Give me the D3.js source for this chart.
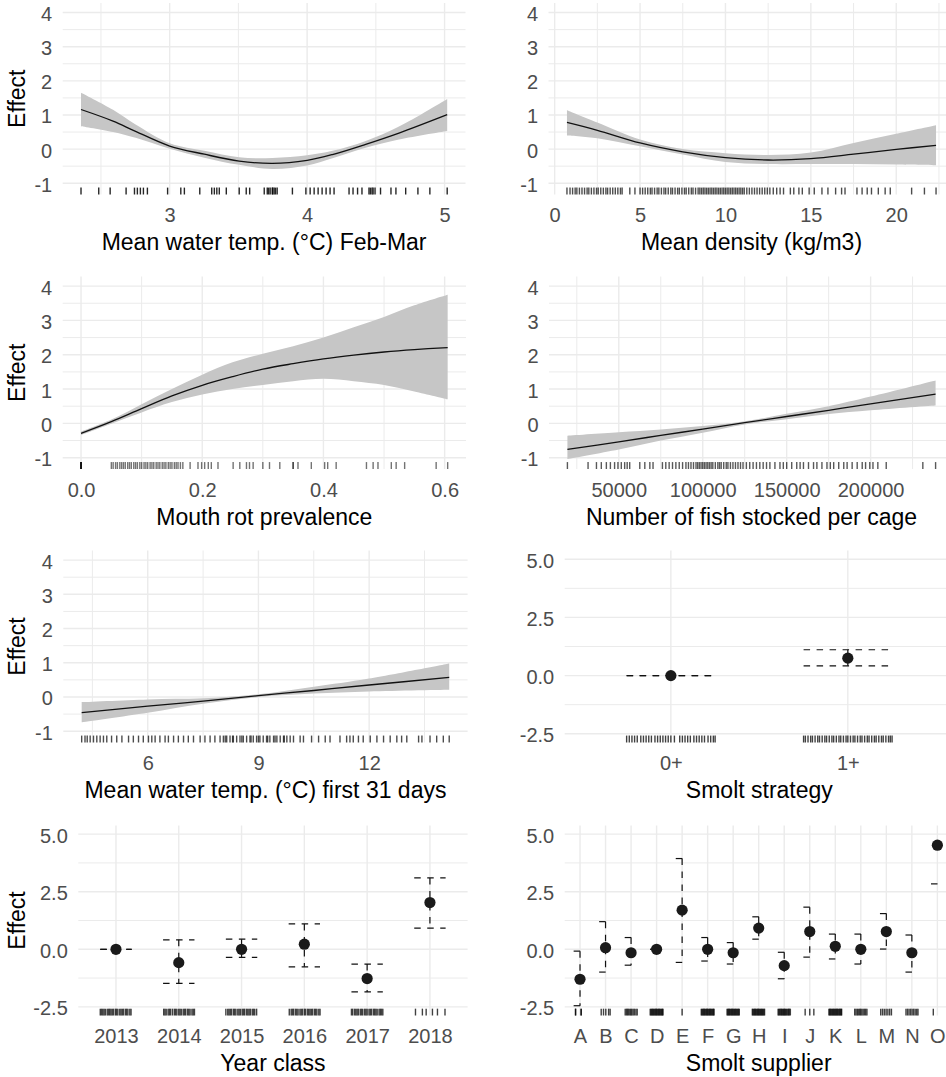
<!DOCTYPE html>
<html>
<head>
<meta charset="utf-8">
<script src="https://cdn.jsdelivr.net/npm/d3@7"></script>
<style>
  body { margin: 0; background: #fff; }
  svg { display: block; font-family: "Liberation Sans", Arial, sans-serif; }
</style>
</head>
<body>
<svg id="chart" width="946" height="1077"></svg>
<script>
"use strict";

// ----------------------------------------
//  Data
// ----------------------------------------

// y axis ticks shared by panels
const yTicksCont = [-1, 0, 1, 2, 3, 4];
const yMinorCont = [-0.5, 0.5, 1.5, 2.5, 3.5];
const yTicksCat = [-2.5, 0, 2.5, 5];
const yMinorCat = [-1.25, 1.25, 3.75];

// Mean water temp Feb-Mar
const tempFebX     = [2.355, 2.588, 2.752, 3.0, 3.252, 3.506, 3.748, 4.0, 4.184, 4.426, 4.668, 5.019];
const tempFebFit   = [1.16, 0.82, 0.52, 0.09, -0.15, -0.35, -0.42, -0.33, -0.16, 0.14, 0.47, 1.01];
const tempFebLower = [0.67, 0.5, 0.33, 0.01, -0.25, -0.46, -0.58, -0.48, -0.27, 0.04, 0.28, 0.53];
const tempFebUpper = [1.65, 1.15, 0.72, 0.17, -0.05, -0.24, -0.26, -0.18, -0.05, 0.24, 0.66, 1.47];
const tempFebRug = [2.355, 2.484, 2.567, 2.683, 2.744, 2.765, 2.787, 2.809, 2.838, 2.985, 3.081, 3.107,
  3.219, 3.306, 3.325, 3.343, 3.361, 3.412, 3.506, 3.557, 3.582, 3.688, 3.71, 3.72, 3.731, 3.746, 3.75,
  3.76, 3.77, 3.782, 3.893, 3.991, 4.022, 4.051, 4.08, 4.109, 4.138, 4.167, 4.196, 4.305, 4.334, 4.367,
  4.399, 4.45, 4.46, 4.472, 4.48, 4.494, 4.534, 4.61, 4.646, 4.717, 4.806, 4.893, 5.019];
const tempFebTicks = [3, 4, 5];

// Mean density
const densX     = [0.72, 2.5, 5, 7.5, 10, 12.5, 15, 17.5, 20, 22.33];
const densFit   = [0.78, 0.55, 0.18, -0.08, -0.25, -0.32, -0.28, -0.15, -0.01, 0.11];
const densLower = [0.4, 0.32, 0.08, -0.16, -0.38, -0.44, -0.44, -0.44, -0.45, -0.47];
const densUpper = [1.14, 0.78, 0.28, 0.0, -0.12, -0.17, -0.1, 0.18, 0.45, 0.7];
const densRug = [0.72, 0.9, 1.05, 1.2, 1.3, 1.45, 1.6, 1.75, 1.9, 2.0, 2.15, 2.3, 2.45, 2.55, 2.7, 2.85,
  3.0, 3.1, 3.25, 3.4, 3.55, 3.7, 3.85, 3.95, 4.4, 4.7, 5.0, 5.15, 5.3, 5.45, 5.6, 5.7, 5.85, 6.0, 6.1,
  6.25, 6.4, 6.5, 6.65, 6.8, 6.9, 7.05, 7.2, 7.3, 7.45, 7.6, 7.7, 7.85, 8.0, 8.1, 8.25, 8.4, 8.5, 8.6,
  8.7, 8.8, 8.9, 9.0, 9.1, 9.2, 9.3, 9.4, 9.5, 9.6, 9.7, 9.8, 9.9, 10.0, 10.1, 10.2, 10.3, 10.4, 10.5,
  10.6, 10.7, 10.8, 10.9, 11.0, 11.1, 11.25, 11.4, 11.55, 11.7, 11.85, 12.0, 12.15, 12.3, 12.45, 12.6,
  12.8, 13.0, 13.2, 13.4, 13.8, 14.0, 14.3, 14.5, 14.9, 15.2, 15.65, 16.0, 16.45, 16.8, 17.0, 17.7,
  18.0, 18.3, 18.55, 18.95, 19.35, 19.65, 20.9, 21.65, 22.33];
const densTicks = [0, 5, 10, 15, 20];

// Mouth rot prevalence
const mouthX     = [0, 0.05, 0.1, 0.15, 0.2, 0.25, 0.3, 0.35, 0.4, 0.45, 0.5, 0.55, 0.605];
const mouthFit   = [-0.29, 0.05, 0.43, 0.8, 1.11, 1.36, 1.58, 1.74, 1.88, 1.99, 2.08, 2.15, 2.21];
const mouthLower = [-0.34, -0.01, 0.32, 0.62, 0.84, 1.0, 1.12, 1.23, 1.3, 1.23, 1.12, 0.93, 0.7];
const mouthUpper = [-0.24, 0.11, 0.56, 1.0, 1.42, 1.78, 2.03, 2.25, 2.5, 2.8, 3.1, 3.44, 3.75];
const mouthRug = [0, 0, 0, 0, 0, 0.05, 0.053, 0.057, 0.06, 0.064, 0.067, 0.07, 0.073, 0.077, 0.08,
  0.083, 0.087, 0.09, 0.093, 0.097, 0.1, 0.104, 0.107, 0.11, 0.114, 0.117, 0.12, 0.124, 0.127, 0.13,
  0.134, 0.137, 0.14, 0.144, 0.147, 0.15, 0.154, 0.157, 0.16, 0.164, 0.168, 0.18, 0.193, 0.199, 0.204,
  0.21, 0.215, 0.226, 0.251, 0.262, 0.273, 0.278, 0.284, 0.3, 0.311, 0.328, 0.35, 0.35, 0.358, 0.38,
  0.402, 0.407, 0.421, 0.471, 0.482, 0.49, 0.512, 0.52, 0.534, 0.586, 0.605];
const mouthTicks = [0, 0.2, 0.4, 0.6];

// Number of fish stocked per cage
const stockX     = [19400, 50000, 75000, 100000, 125000, 150000, 175000, 200000, 238700];
const stockFit   = [-0.76, -0.54, -0.35, -0.17, 0.02, 0.2, 0.38, 0.57, 0.85];
const stockLower = [-1.04, -0.76, -0.5, -0.27, -0.03, 0.12, 0.27, 0.38, 0.52];
const stockUpper = [-0.36, -0.26, -0.18, -0.08, 0.06, 0.28, 0.5, 0.78, 1.25];
const stockRug = [19400, 31700, 36700, 39600, 42600, 45000, 47500, 49500, 51500, 53500, 55000, 56500,
  62500, 65500, 68500, 70400, 76000, 78000, 80000, 82000, 84000, 86000, 88000, 90000, 91500, 93000,
  94500, 96000, 97000, 98000, 99000, 100000, 101000, 102000, 103000, 104000, 105000, 106000, 107500,
  109000, 110000, 111000, 112500, 114000, 115000, 116500, 118000, 119500, 121000, 122500, 124000,
  126000, 128000, 130000, 132000, 134000, 136000, 138000, 140000, 143000, 146000, 148000, 150000,
  153000, 156000, 158000, 160000, 163000, 166000, 168000, 171000, 174000, 176000, 178000, 181000,
  184000, 186000, 189000, 192000, 195000, 197000, 199500, 201400, 204300, 209300, 231100, 238700];
const stockTicks = [50000, 100000, 150000, 200000];

// Mean water temp first 31 days
const temp31X     = [4.21, 6, 7.5, 9, 10.5, 12, 14.17];
const temp31Fit   = [-0.46, -0.27, -0.12, 0.04, 0.19, 0.35, 0.57];
const temp31Lower = [-0.74, -0.46, -0.2, 0.0, 0.1, 0.16, 0.21];
const temp31Upper = [-0.15, -0.07, -0.04, 0.08, 0.3, 0.54, 0.98];
const temp31Rug = [4.21, 4.3, 4.36, 4.44, 4.53, 4.62, 4.71, 4.8, 4.89, 5.02, 5.16, 5.3, 5.48, 5.61,
  5.75, 5.88, 6.02, 6.11, 6.2, 6.33, 6.47, 6.56, 6.7, 6.83, 6.97, 7.1, 7.24, 7.42, 7.55, 7.69, 7.82,
  7.96, 8.05, 8.1, 8.14, 8.23, 8.3, 8.32, 8.41, 8.5, 8.55, 8.59, 8.68, 8.77, 8.8, 8.86, 8.95, 9.0,
  9.04, 9.13, 9.22, 9.25, 9.31, 9.41, 9.45, 9.5, 9.59, 9.68, 9.7, 9.77, 9.86, 9.95, 10.13, 10.22,
  10.44, 10.63, 10.81, 10.94, 11.21, 11.39, 11.48, 11.57, 11.71, 11.84, 12.03, 12.21, 12.39, 12.57,
  12.75, 12.88, 13.02, 13.34, 13.43, 13.65, 13.83, 14.01, 14.17];
const temp31Ticks = [6, 9, 12];

// Smolt strategy
const strategyCats = ["0+", "1+"];
const strategyEst  = [0, 0.75];
const strategyLow  = [0, 0.42];
const strategyHigh = [0, 1.11];
const strategyRug = [
  [-0.25, -0.235, -0.22, -0.205, -0.19, -0.17, -0.155, -0.14, -0.125, -0.11, -0.09, -0.075, -0.06,
   -0.045, -0.03, -0.015, 0.0, 0.02, 0.05, 0.065, 0.08, 0.095, 0.11, 0.13, 0.145, 0.16, 0.175, 0.19,
   0.21, 0.225, 0.24, 0.25],
  [-0.25, -0.24, -0.225, -0.21, -0.2, -0.185, -0.17, -0.16, -0.145, -0.13, -0.12, -0.105, -0.09, -0.08,
   -0.065, -0.05, -0.04, -0.025, -0.01, 0.0, 0.015, 0.03, 0.04, 0.055, 0.07, 0.08, 0.095, 0.11, 0.12,
   0.135, 0.15, 0.16, 0.175, 0.19, 0.2, 0.215, 0.23, 0.24, 0.25]
];

// Year class
const yearCats = ["2013", "2014", "2015", "2016", "2017", "2018"];
const yearEst  = [0, -0.58, 0.0, 0.22, -1.27, 2.03];
const yearLow  = [0, -1.48, -0.35, -0.76, -1.85, 0.92];
const yearHigh = [0, 0.41, 0.44, 1.1, -0.64, 3.1];
const yearRug = [
  [-0.25, -0.23, -0.21, -0.19, -0.17, -0.14, -0.12, -0.1, -0.08, -0.06, -0.04, -0.01, 0.01, 0.03, 0.06, 0.08, 0.1, 0.12, 0.15, 0.17, 0.19, 0.22, 0.24],
  [-0.24, -0.22, -0.2, -0.17, -0.15, -0.13, -0.1, -0.07, -0.05, -0.03, 0.0, 0.02, 0.04, 0.07, 0.09, 0.11, 0.14, 0.16, 0.18, 0.21, 0.23, 0.25],
  [-0.25, -0.22, -0.2, -0.18, -0.16, -0.13, -0.11, -0.09, -0.06, -0.04, -0.02, 0.01, 0.03, 0.05, 0.08, 0.1, 0.12, 0.14, 0.17, 0.19, 0.21, 0.24],
  [-0.24, -0.21, -0.19, -0.17, -0.14, -0.12, -0.1, -0.07, -0.05, -0.03, 0.0, 0.02, 0.05, 0.07, 0.09, 0.11, 0.13, 0.16, 0.18, 0.2, 0.23, 0.25],
  [-0.25, -0.23, -0.2, -0.18, -0.16, -0.14, -0.11, -0.09, -0.07, -0.04, -0.02, 0.0, 0.03, 0.05, 0.07, 0.1, 0.12, 0.14, 0.16, 0.19, 0.21, 0.23, 0.25],
  [-0.23, -0.12, -0.06, 0.04, 0.12, 0.24]
];

// Smolt supplier (upper bound of O falls outside the plotted range)
const supplierCats = ["A", "B", "C", "D", "E", "F", "G", "H", "I", "J", "K", "L", "M", "N", "O"];
const supplierEst  = [-1.3, 0.07, -0.15, 0, 1.7, 0.0, -0.15, 0.92, -0.71, 0.77, 0.13, 0.0, 0.77, -0.15, 4.52];
const supplierLow  = [-2.45, -0.99, -0.69, 0, -0.57, -0.51, -0.64, 0.44, -1.28, -0.34, -0.42, -0.64, 0.01, -0.99, 2.84];
const supplierHigh = [-0.08, 1.2, 0.51, 0, 3.94, 0.51, 0.29, 1.41, -0.13, 1.83, 0.66, 0.66, 1.55, 0.62, null];
const supplierRug = [
  [-0.18, -0.17, 0.04, 0.05],
  [-0.17, -0.08, 0.01, 0.12, 0.18],
  [-0.23, -0.18, -0.14, -0.1, -0.05, -0.01, 0.03, 0.08, 0.13, 0.19, 0.24],
  [-0.25, -0.22, -0.19, -0.16, -0.13, -0.1, -0.07, -0.04, -0.01, 0.02, 0.05, 0.08, 0.11, 0.14, 0.17, 0.2, 0.23, 0.25],
  [0.0],
  [-0.25, -0.22, -0.19, -0.16, -0.13, -0.1, -0.07, -0.04, -0.01, 0.02, 0.05, 0.08, 0.11, 0.14, 0.17, 0.2, 0.23, 0.25],
  [-0.24, -0.21, -0.18, -0.15, -0.12, -0.09, -0.06, -0.03, 0.0, 0.03, 0.06, 0.09, 0.12, 0.15, 0.18, 0.21, 0.24],
  [-0.25, -0.22, -0.19, -0.16, -0.13, -0.1, -0.07, -0.04, -0.01, 0.02, 0.05, 0.08, 0.11, 0.14, 0.17, 0.2, 0.23],
  [-0.24, -0.21, -0.18, -0.14, -0.11, -0.08, -0.05, -0.02, 0.01, 0.04, 0.07, 0.1, 0.14, 0.17, 0.2, 0.24],
  [-0.18, 0.0, 0.16],
  [-0.25, -0.22, -0.19, -0.16, -0.13, -0.1, -0.07, -0.04, -0.01, 0.02, 0.05, 0.08, 0.11, 0.14, 0.17, 0.2, 0.23, 0.25],
  [-0.24, -0.19, -0.14, -0.1, -0.05, -0.01, 0.04, 0.09, 0.14, 0.19, 0.24],
  [-0.22, -0.15, -0.08, -0.01, 0.06, 0.13, 0.2],
  [-0.23, -0.17, -0.11, -0.05, 0.01, 0.07, 0.13, 0.19, 0.24],
  [-0.16]
];

// ----------------------------------------
//  Layout
// ----------------------------------------
const contYDomain = [-1.33, 4.28];
const catYDomain = [-2.875, 5.375];
const gridColor = "#ebebeb";
const tickSize = 20;
const titleSize = 23;

const contPanels = [
  {left: 62.7, right: 465.5, top: 3, bottom: 194.5, title: "Mean water temp. (°C) Feb-Mar", ylab: true,
   xs: tempFebX, fit: tempFebFit, lo: tempFebLower, hi: tempFebUpper, rug: tempFebRug, ticks: tempFebTicks,
   fmt: d => String(d), rugAlpha: 0.85},
  {left: 548.5, right: 954.5, top: 3, bottom: 194.5, title: "Mean density (kg/m3)", ylab: false,
   xs: densX, fit: densFit, lo: densLower, hi: densUpper, rug: densRug, ticks: densTicks,
   fmt: d => String(d), rugAlpha: 0.7},
  {left: 62.7, right: 466, top: 276.5, bottom: 469, title: "Mouth rot prevalence", ylab: true,
   xs: mouthX, fit: mouthFit, lo: mouthLower, hi: mouthUpper, rug: mouthRug, ticks: mouthTicks,
   fmt: d3.format(".1f"), rugAlpha: 0.55},
  {left: 549, right: 954, top: 276.5, bottom: 469, title: "Number of fish stocked per cage", ylab: false,
   xs: stockX, fit: stockFit, lo: stockLower, hi: stockUpper, rug: stockRug, ticks: stockTicks,
   fmt: d => String(d), rugAlpha: 0.65},
  {left: 63.3, right: 467.6, top: 550.5, bottom: 742.5, title: "Mean water temp. (°C) first 31 days", ylab: true,
   xs: temp31X, fit: temp31Fit, lo: temp31Lower, hi: temp31Upper, rug: temp31Rug, ticks: temp31Ticks,
   fmt: d => String(d), rugAlpha: 0.7}
];

const catPanels = [
  {left: 564.7, right: 954, top: 550.5, bottom: 742.5, title: "Smolt strategy", ylab: false,
   cats: strategyCats, est: strategyEst, low: strategyLow, high: strategyHigh, rug: strategyRug},
  {left: 78.3, right: 467.6, top: 825.5, bottom: 1015.5, title: "Year class", ylab: true,
   cats: yearCats, est: yearEst, low: yearLow, high: yearHigh, rug: yearRug},
  {left: 564.7, right: 952.7, top: 825.5, bottom: 1015.5, title: "Smolt supplier", ylab: false,
   cats: supplierCats, est: supplierEst, low: supplierLow, high: supplierHigh, rug: supplierRug}
];

const svg = d3.select("#chart");

// ----------------------------------------
//  Helpers
// ----------------------------------------
function minorBreaks(ticks, domain) {
  const step = ticks[1] - ticks[0];
  const out = [ticks[0] - step / 2].concat(ticks.map(t => t + step / 2));
  return out.filter(v => v >= domain[0] && v <= domain[1]);
}

function drawGrid(g, p, xPos, xMinorPos, yScale, yMajor, yMinor) {
  g.selectAll(".hminor").data(yMinor).join("line").attr("class", "hminor")
    .attr("x1", p.left).attr("x2", p.right)
    .attr("y1", d => yScale(d)).attr("y2", d => yScale(d))
    .attr("stroke", gridColor).attr("stroke-width", 1);
  g.selectAll(".vminor").data(xMinorPos).join("line").attr("class", "vminor")
    .attr("x1", d => d).attr("x2", d => d)
    .attr("y1", p.top).attr("y2", p.bottom)
    .attr("stroke", gridColor).attr("stroke-width", 1);
  g.selectAll(".hmajor").data(yMajor).join("line").attr("class", "hmajor")
    .attr("x1", p.left).attr("x2", p.right)
    .attr("y1", d => yScale(d)).attr("y2", d => yScale(d))
    .attr("stroke", gridColor).attr("stroke-width", 1.4);
  g.selectAll(".vmajor").data(xPos).join("line").attr("class", "vmajor")
    .attr("x1", d => d).attr("x2", d => d)
    .attr("y1", p.top).attr("y2", p.bottom)
    .attr("stroke", gridColor).attr("stroke-width", 1.4);
}

function drawAxes(g, p, xScale, ticks, fmt, yScale, yTicks, yFmt) {
  const xa = g.append("g")
    .attr("transform", "translate(0," + p.bottom + ")")
    .call(d3.axisBottom(xScale).tickValues(ticks).tickSize(0).tickPadding(13.5).tickFormat(fmt));
  xa.select(".domain").remove();
  xa.selectAll("text").attr("font-size", tickSize).attr("fill", "#4d4d4d")
    .attr("font-family", "Liberation Sans, Arial, sans-serif");

  const ya = g.append("g")
    .attr("transform", "translate(" + p.left + ",0)")
    .call(d3.axisLeft(yScale).tickValues(yTicks).tickSize(0).tickPadding(10.5).tickFormat(yFmt));
  ya.select(".domain").remove();
  ya.selectAll("text").attr("font-size", tickSize).attr("fill", "#4d4d4d").attr("dy", "0.4em")
    .attr("font-family", "Liberation Sans, Arial, sans-serif");

  // x title
  g.append("text")
    .attr("x", (p.left + p.right) / 2)
    .attr("y", p.bottom + 55.7)
    .attr("text-anchor", "middle")
    .attr("font-size", titleSize)
    .attr("fill", "#000")
    .text(p.title);

  // y title
  if (p.ylab) {
    g.append("text")
      .attr("transform", "translate(25," + ((p.top + p.bottom) / 2) + ") rotate(-90)")
      .attr("text-anchor", "middle")
      .attr("font-size", titleSize)
      .attr("fill", "#000")
      .text("Effect");
  }
}

// ----------------------------------------
//  Continuous effect panels
// ----------------------------------------
contPanels.forEach(function (p) {
  const g = svg.append("g");
  const ext = d3.extent(p.rug);
  const pad = (ext[1] - ext[0]) * 0.05;
  const xDom = [ext[0] - pad, ext[1] + pad];
  const x = d3.scaleLinear().domain(xDom).range([p.left, p.right]);
  const y = d3.scaleLinear().domain(contYDomain).range([p.bottom, p.top]);

  drawGrid(g, p, p.ticks.map(x), minorBreaks(p.ticks, xDom).map(x), y, yTicksCont, yMinorCont);

  const rows = p.xs.map((v, i) => ({x: v, fit: p.fit[i], lo: p.lo[i], hi: p.hi[i]}));
  const smooth = d3.curveCatmullRom.alpha(0.5);

  g.append("path").datum(rows)
    .attr("fill", "#c6c6c6")
    .attr("d", d3.area().x(d => x(d.x)).y0(d => y(d.lo)).y1(d => y(d.hi)).curve(smooth));

  g.append("path").datum(rows)
    .attr("fill", "none").attr("stroke", "#111").attr("stroke-width", 1.3)
    .attr("d", d3.line().x(d => x(d.x)).y(d => y(d.fit)).curve(smooth));

  const rugLen = (p.bottom - p.top) * 0.036;
  g.selectAll(".rug").data(p.rug).join("line").attr("class", "rug")
    .attr("x1", d => x(d)).attr("x2", d => x(d))
    .attr("y1", p.bottom - rugLen).attr("y2", p.bottom)
    .attr("stroke", "#000").attr("stroke-opacity", p.rugAlpha).attr("stroke-width", 1.4);

  drawAxes(g, p, x, p.ticks, p.fmt, y, yTicksCont, d => String(d));
});

// ----------------------------------------
//  Categorical effect panels
// ----------------------------------------
catPanels.forEach(function (p) {
  const g = svg.append("g");
  const x = d3.scalePoint().domain(p.cats).range([p.left, p.right]).padding(0.6);
  const y = d3.scaleLinear().domain(catYDomain).range([p.bottom, p.top]);
  const step = x.step();

  drawGrid(g, p, p.cats.map(x), [], y, yTicksCat, yMinorCat);

  // rug of jittered observations
  const rugLen = (p.bottom - p.top) * 0.036;
  const rugPts = [];
  p.cats.forEach((c, i) => p.rug[i].forEach(o => rugPts.push(x(c) + o * step)));
  g.selectAll(".rug").data(rugPts).join("line").attr("class", "rug")
    .attr("x1", d => d).attr("x2", d => d)
    .attr("y1", p.bottom - rugLen).attr("y2", p.bottom)
    .attr("stroke", "#000").attr("stroke-opacity", 0.75).attr("stroke-width", 1.4);

  // dashed error bars, drawn as separate pieces like ggplot does
  const half = step * 0.25;
  const segs = [];
  p.cats.forEach((c, i) => {
    const cx = x(c);
    if (p.high[i] !== null) {
      segs.push([cx - half, y(p.high[i]), cx + half, y(p.high[i])]);
      segs.push([cx, y(p.high[i]), cx, y(p.low[i])]);
    }
    segs.push([cx - half, y(p.low[i]), cx + half, y(p.low[i])]);
  });
  g.selectAll(".err").data(segs).join("line").attr("class", "err")
    .attr("x1", d => d[0]).attr("y1", d => d[1])
    .attr("x2", d => d[2]).attr("y2", d => d[3])
    .attr("stroke", "#111").attr("stroke-width", 1.2)
    .attr("stroke-dasharray", "6.5,6.5");

  g.selectAll(".pt").data(p.cats).join("circle").attr("class", "pt")
    .attr("cx", d => x(d))
    .attr("cy", (d, i) => y(p.est[i]))
    .attr("r", 5.6)
    .attr("fill", "#1a1a1a");

  drawAxes(g, p, x, p.cats, d => d, y, yTicksCat, d => d3.format(".1f")(d).replace("\u2212", "-"));
});
</script>
</body>
</html>
